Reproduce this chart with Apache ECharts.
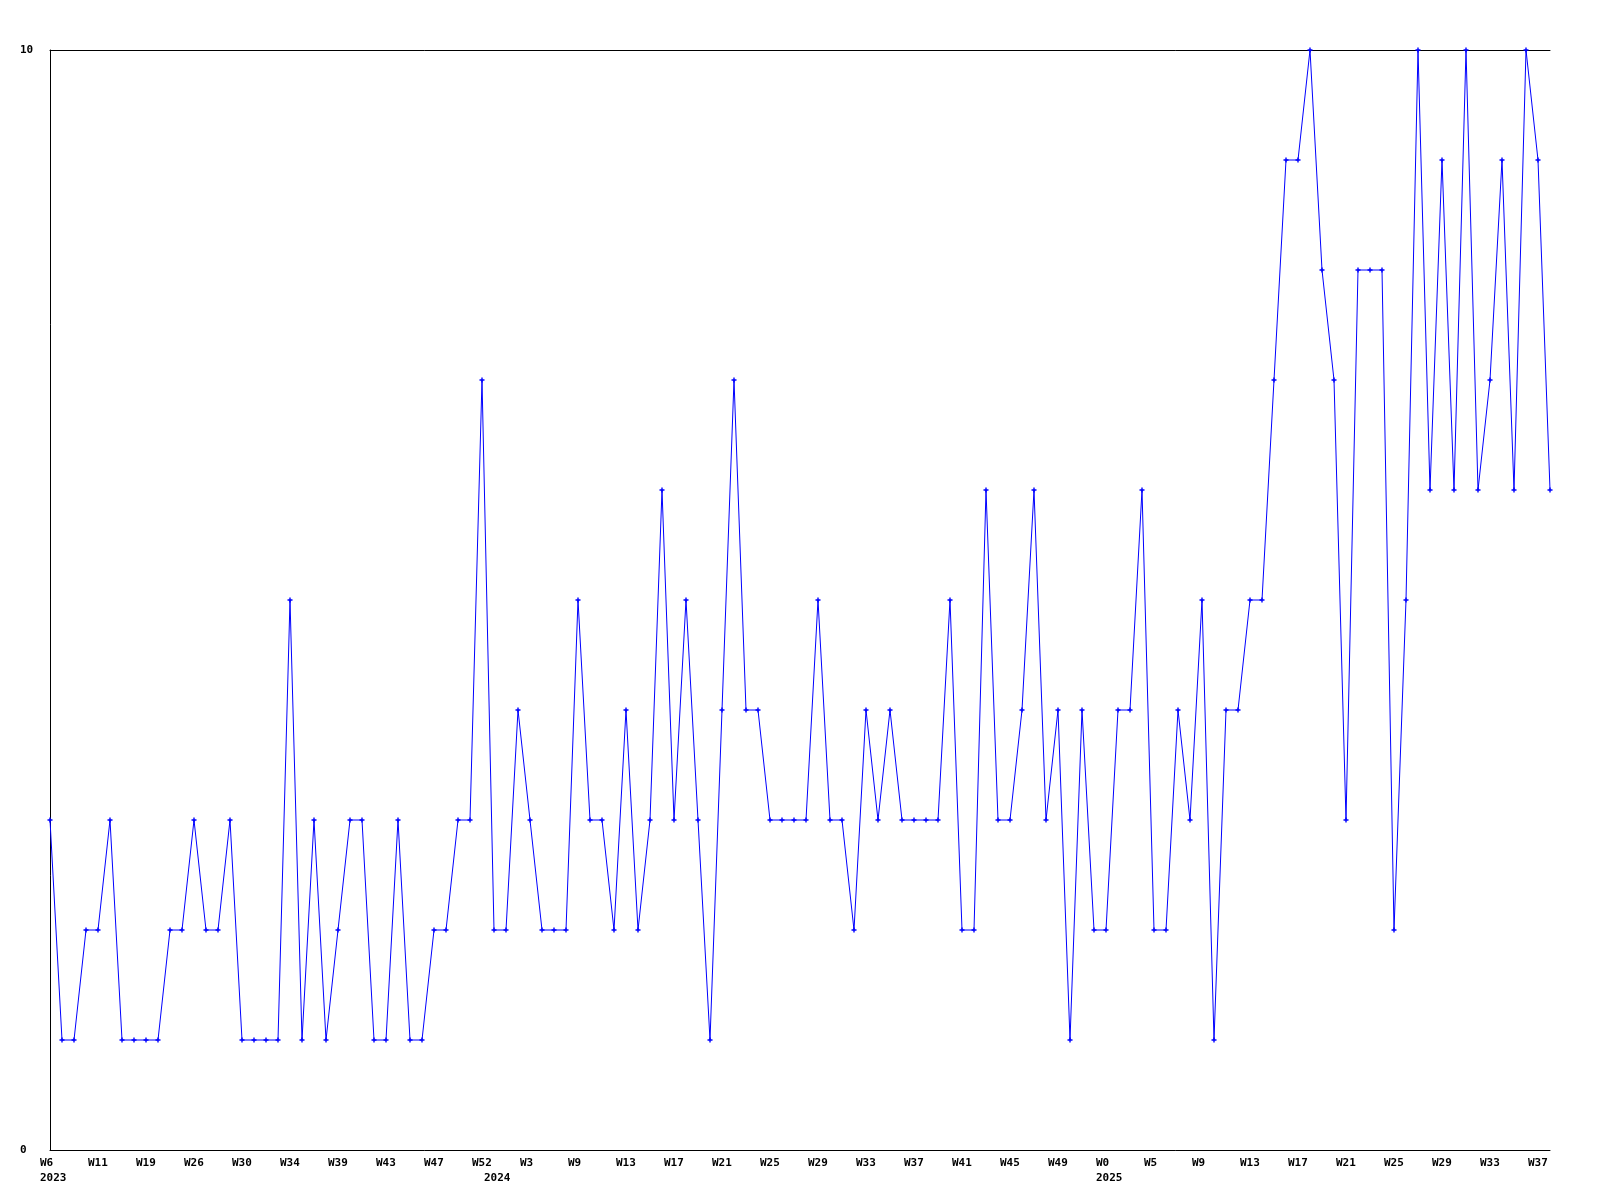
<!DOCTYPE html>
<html>
<head>
<meta charset="utf-8">
<script src="https://cdn.jsdelivr.net/npm/echarts@6/dist/echarts.min.js"></script>
<style>
html,body{margin:0;padding:0;background:#fff;}
#chart{width:1600px;height:1200px;}
</style>
</head>
<body>
<div id="chart"></div>
<script>
// Weekly values, one per point (126 points)
const values = [
  3,1,1,2,2,3,1,1,1,1,
  2,2,3,2,2,3,1,1,1,1,
  5,1,3,1,2,3,3,1,1,3,
  1,1,2,2,3,3,7,2,2,4,
  3,2,2,2,5,3,3,2,4,2,
  3,6,3,5,3,1,4,7,4,4,
  3,3,3,3,5,3,3,2,4,3,
  4,3,3,3,3,5,2,2,6,3,
  3,4,6,3,4,1,4,2,2,4,
  4,6,2,2,4,3,5,1,4,4,
  5,5,7,9,9,10,8,7,3,8,
  8,8,2,5,10,6,9,6,10,6,
  7,9,6,10,9,6
];

// Tick labels shown on the x axis (every 4th point)
const tickWeeks = ['W6','W11','W19','W26','W30','W34','W39','W43','W47','W52','W3','W9','W13','W17','W21','W25','W29','W33','W37','W41','W45','W49','W0','W5','W9','W13','W17','W21','W25','W29','W33','W37'];
const tickStep = 4;
// Year labels (point index -> year)
const yearIndex = [0,37,88];
const years = ['2023','2024','2025'];

// y-axis range
const yMin = 0, yMax = 10;

// Build category labels
const categories = values.map(() => '');
tickWeeks.forEach((w, k) => { categories[k * tickStep] = w; });
const yearOf = {};
yearIndex.forEach((ix, k) => { yearOf[ix] = years[k]; });

const plusPath = 'path://M1.8,0H3.2V1.8H5V3.2H3.2V5H1.8V3.2H0V1.8H1.8Z';
const font = '"DejaVu Sans Mono", "Liberation Mono", monospace';

const chart = echarts.init(document.getElementById('chart'), null, {renderer: 'canvas'});
chart.setOption({
  backgroundColor: '#ffffff',
  animation: false,
  grid: {left: 50, right: 50, top: 50, bottom: 50, containLabel: false, outerBoundsMode: 'none'},
  xAxis: [{
    type: 'category',
    position: 'bottom',
    data: categories,
    boundaryGap: false,
    axisLine: {show: true, lineStyle: {color: '#000', width: 1}},
    axisTick: {show: false},
    splitLine: {show: false},
    axisLabel: {
      interval: function (index) { return categories[index] !== '' || yearOf[index] !== undefined; },
      margin: 6,
      formatter: function (val, index) {
        const w = val === '' ? ' ' : val;
        const y = yearOf[index];
        const txt = y ? (w + '\n' + y) : w;
        return '{a|' + txt + '}';
      },
      rich: {
        a: {width: 20, align: 'left', fontFamily: font, fontWeight: 'bold', fontSize: 11, lineHeight: 15, color: '#000'}
      },
      hideOverlap: false
    }
  }, {
    type: 'category',
    position: 'top',
    data: categories,
    boundaryGap: false,
    axisLine: {show: true, onZero: false, lineStyle: {color: '#000', width: 1}},
    axisTick: {show: false},
    axisLabel: {show: false},
    splitLine: {show: false}
  }],
  yAxis: {
    type: 'value',
    min: yMin,
    max: yMax,
    interval: 10,
    axisLine: {show: true, lineStyle: {color: '#000', width: 1}},
    axisTick: {show: false},
    splitLine: {show: false},
    axisLabel: {
      align: 'left',
      margin: 30,
      fontFamily: font,
      fontWeight: 'bold',
      fontSize: 11,
      color: '#000'
    }
  },
  series: [{
    type: 'line',
    xAxisIndex: 0,
    data: values,
    showAllSymbol: true,
    symbol: plusPath,
    symbolSize: 5,
    lineStyle: {color: '#0000ff', width: 1},
    itemStyle: {color: '#0000ff'},
    emphasis: {disabled: true}
  }]
});
</script>
</body>
</html>
